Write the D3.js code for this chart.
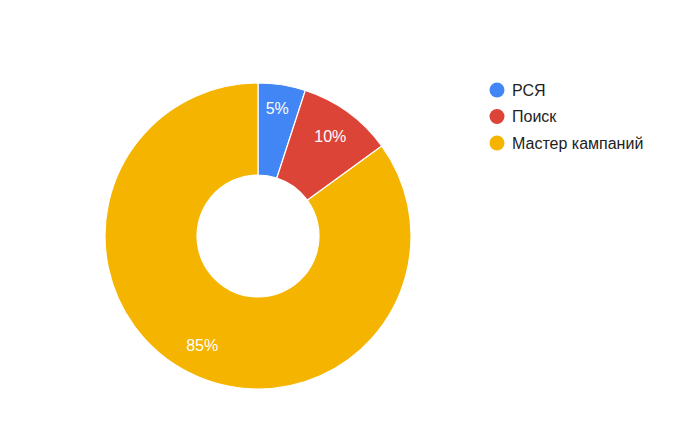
<!DOCTYPE html>
<html><head><meta charset="utf-8">
<script src="https://cdn.jsdelivr.net/npm/d3@7"></script>
<style>body{margin:0;background:#fff;}svg{display:block;font-family:Arial,"Liberation Sans",sans-serif;}</style>
</head><body>
<svg id="c" width="673" height="425"></svg>
<script>
const categories = ["РСЯ", "Поиск", "Мастер кампаний"];
const values = [5, 10, 85];
const colors = ["#4285f4", "#db4437", "#f4b400"];

const svg = d3.select("#c");
const cx = 258, cy = 236, outerR = 153, innerR = 61;
const g = svg.append("g").attr("transform", `translate(${cx},${cy})`);
const data = categories.map((c, i) => ({cat: c, v: values[i], color: colors[i]}));
const pie = d3.pie().value(d => d.v).sort(null);
const arcs = pie(data);
const arc = d3.arc().innerRadius(innerR).outerRadius(outerR);
g.selectAll("path").data(arcs).join("path")
  .attr("d", arc).attr("fill", d => d.data.color)
  .attr("stroke", "#fff").attr("stroke-width", 1.2);
const total = d3.sum(values);
const labelArc = d3.arc().innerRadius(123).outerRadius(123);
g.selectAll("text").data(arcs).join("text")
  .attr("transform", d => {
    const [x, y] = labelArc.centroid(d);
    const span = d.endAngle - d.startAngle;
    const dy = span < 0.4 ? -6 : 0;
    return `translate(${x},${y + dy})`;
  })
  .attr("text-anchor", "middle").attr("dy", "0.35em")
  .attr("fill", "#fff").attr("font-size", 16)
  .text(d => Math.round(d.data.v / total * 100) + "%");

const leg = svg.append("g").attr("transform", "translate(497,90)");
const li = leg.selectAll("g").data(data).join("g")
  .attr("transform", (d, i) => `translate(0,${i * 26.5})`);
li.append("circle").attr("r", 7.5).attr("fill", d => d.color);
li.append("text").attr("x", 15).attr("dy", "0.35em").attr("font-size", 16)
  .attr("fill", "#222").text(d => d.cat);
</script>
</body></html>
